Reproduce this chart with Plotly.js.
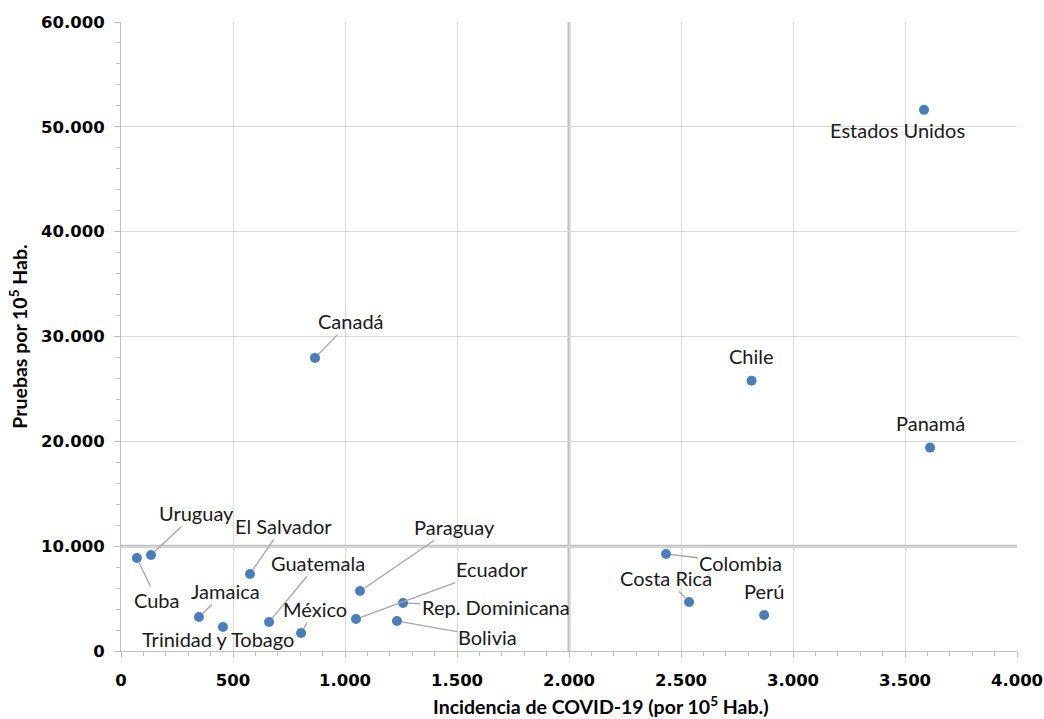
<!DOCTYPE html>
<html>
<head>
<meta charset="utf-8">
<script src="https://cdn.plot.ly/plotly-3.0.1.min.js"></script>
<style>html,body{margin:0;padding:0;background:#fff;} #chart{width:1044px;height:719px;}</style>
</head>
<body>
<div id="chart"></div>
<script>
// Data
const countries = ["Estados Unidos","Chile","Panamá","Canadá","Uruguay","Cuba","El Salvador","Jamaica","Trinidad y Tobago","Guatemala","México","Paraguay","Ecuador","Rep. Dominicana","Bolivia","Colombia","Costa Rica","Perú"];
const incidence = [3585, 2815, 3612, 866, 134, 71, 576, 348, 455, 661, 804, 1067, 1049, 1259, 1232, 2433, 2536, 2871];
const tests = [51620, 25790, 19400, 27960, 9160, 8870, 7350, 3240, 2290, 2770, 1720, 5720, 3050, 4580, 2860, 9260, 4680, 3430];
const refX = [2000];
const refY = [10000];
const xTitle = "Incidencia de COVID-19 (por 10<sup>5</sup> Hab.)";
const yTitle = "Pruebas por 10<sup>5</sup> Hab.";

// Label placement (pixel offsets of label centre from the point)
const labelStyle = {
  "Estados Unidos": {arrow:false, dx:-27, dy:20},
  "Chile": {arrow:false, dx:0, dy:-25},
  "Panamá": {arrow:false, dx:0, dy:-25},
  "Canadá": {arrow:true, dx:36, dy:-37},
  "Uruguay": {arrow:true, dx:45, dy:-42},
  "Cuba": {arrow:true, dx:20, dy:42},
  "El Salvador": {arrow:true, dx:33, dy:-48},
  "Jamaica": {arrow:true, dx:27, dy:-26},
  "Trinidad y Tobago": {arrow:false, dx:-5, dy:12},
  "Guatemala": {arrow:true, dx:49, dy:-59},
  "México": {arrow:true, dx:14, dy:-24},
  "Paraguay": {arrow:true, dx:94, dy:-64},
  "Ecuador": {arrow:true, dx:136, dy:-50},
  "Rep. Dominicana": {arrow:true, dx:93, dy:4},
  "Bolivia": {arrow:true, dx:91, dy:16},
  "Colombia": {arrow:true, dx:75, dy:9},
  "Costa Rica": {arrow:true, dx:-23, dy:-24},
  "Perú": {arrow:false, dx:0, dy:-24}
};

const FONT = "Lato, 'Noto Sans', 'DejaVu Sans', sans-serif";
const TICKFONT = "'DejaVu Sans', Verdana, sans-serif";
const lblFont = {family: FONT, size: 20, color: "#1a1a1a"};

const annotations = countries.map((c, i) => {
  const s = labelStyle[c];
  const a = {x: incidence[i], y: tests[i], xref: "x", yref: "y", text: c, font: lblFont};
  if (s.arrow) {
    Object.assign(a, {showarrow: true, arrowhead: 0, arrowwidth: 1.3, arrowcolor: "#a6a6a6",
      ax: s.dx, ay: s.dy, axref: "pixel", ayref: "pixel", standoff: 5, startstandoff: 0});
  } else {
    Object.assign(a, {showarrow: false, xshift: s.dx, yshift: -s.dy});
  }
  return a;
});

const titleFont = {family: FONT, size: 19.5, color: "#000", weight: "bold"};
annotations.push({text: xTitle, xref: "paper", yref: "paper", x: 0.5357, y: 0,
  xanchor: "center", yanchor: "middle", yshift: -54, showarrow: false, font: titleFont});

const shapes = [
  ...refX.map(v => ({type: "line", xref: "x", yref: "paper", x0: v, x1: v, y0: 0, y1: 1, line: {color: "#bfbfbf", width: 3}, layer: "below"})),
  ...refY.map(v => ({type: "line", xref: "paper", yref: "y", x0: 0, x1: 1, y0: v, y1: v, line: {color: "#bfbfbf", width: 3}, layer: "below"}))
];

const trace = {
  type: "scatter", mode: "markers",
  x: incidence, y: tests, text: countries,
  marker: {color: "#4a7ebb", size: 10},
  hoverinfo: "text+x+y", cliponaxis: false
};

const tickFont = {family: TICKFONT, size: 16.5, color: "#000", weight: "bold"};
const layout = {
  width: 1044, height: 719,
  margin: {l: 121, r: 27, t: 22, b: 68},
  paper_bgcolor: "#fff", plot_bgcolor: "#fff",
  separators: ",.",
  showlegend: false,
  xaxis: {
    range: [0, 4000], dtick: 500, tick0: 0, tickformat: ",d",
    showgrid: true, gridcolor: "#d9d9d9", gridwidth: 1,
    zeroline: false, showline: true, linecolor: "#bfbfbf", linewidth: 1,
    ticks: "outside", ticklen: 6, tickcolor: "#bfbfbf",
    minor: {dtick: 100, ticks: "outside", ticklen: 4, tickcolor: "#bfbfbf", showgrid: false},
    tickfont: tickFont, ticklabelstandoff: 8,
    fixedrange: true
  },
  yaxis: {
    range: [0, 60000], dtick: 10000, tick0: 0, tickformat: ",d",
    showgrid: true, gridcolor: "#d9d9d9", gridwidth: 1,
    zeroline: false, showline: true, linecolor: "#bfbfbf", linewidth: 1,
    ticks: "outside", ticklen: 6, tickcolor: "#bfbfbf",
    minor: {dtick: 2000, ticks: "outside", ticklen: 4, tickcolor: "#bfbfbf", showgrid: false},
    tickfont: tickFont, ticklabelstandoff: 6,
    title: {text: yTitle, font: titleFont, standoff: 8},
    fixedrange: true
  },
  shapes: shapes,
  annotations: annotations
};

Plotly.newPlot("chart", [trace], layout, {displayModeBar: false, staticPlot: true});
</script>
</body>
</html>
